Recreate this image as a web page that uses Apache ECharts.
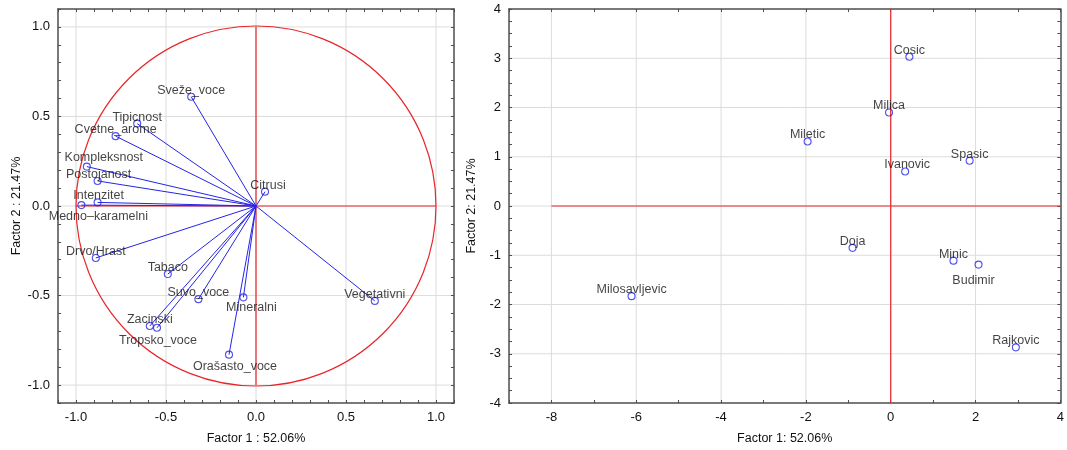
<!DOCTYPE html>
<html><head><meta charset="utf-8">
<script src="https://cdn.jsdelivr.net/npm/echarts@6/dist/echarts.min.js"></script>
<style>html,body{margin:0;padding:0;background:#fff}#c{width:1067px;height:450px}</style>
</head><body><div id="c"></div>
<script>
// ---------- DATA ----------
const variableNames = ['Sveže_voce','Tipicnost','Cvetne_arome','Kompleksnost','Postojanost','Intenzitet','Medno–karamelni','Citrusi','Drvo/Hrast','Tabaco','Suvo_voce','Mineralni','Vegetativni','Zacinski','Tropsko_voce','Orašasto_voce'];
const factor1Loadings = [-0.36,-0.66,-0.78,-0.94,-0.88,-0.88,-0.97,0.05,-0.89,-0.49,-0.32,-0.07,0.66,-0.59,-0.55,-0.15];
const factor2Loadings = [0.61,0.46,0.39,0.22,0.14,0.02,0.005,0.08,-0.29,-0.38,-0.52,-0.51,-0.53,-0.67,-0.68,-0.83];

const cultivarNames = ['Cosic','Milica','Miletic','Ivanovic','Spasic','Doja','Minic','Budimir','Milosavljevic','Rajkovic'];
const factor1Scores = [0.44,-0.04,-1.96,0.34,1.86,-0.90,1.48,2.07,-6.11,2.95];
const factor2Scores = [3.03,1.90,1.31,0.70,0.92,-0.85,-1.11,-1.19,-1.83,-2.87];

const circleRadius = 1;
const loadingRange = [-1.1, 1.1];
const loadingTickStep = 0.1;
const loadingLabelTicks = [-1.0,-0.5,0,0.5,1.0];
const scoreXRange = [-9, 4];
const scoreXTickStep = 1;
const scoreXLabelTicks = [-8,-6,-4,-2,0,2,4];
const scoreYRange = [-4, 4];
const scoreYTickStep = 0.25;
const scoreYLabelTicks = [-4,-3,-2,-1,0,1,2,3,4];
const loadingRefLines = [[[-1,0],[1,0]],[[0,-1],[0,1]]];
const scoreRefLines = [[[-8,0],[4,0]],[[0,-4],[0,4]]];

const axisTitles = {
  loadX: 'Factor 1 : 52.06%', loadY: 'Factor 2 : 21.47%',
  scoreX: 'Factor 1: 52.06%', scoreY: 'Factor 2: 21.47%'
};

// ---------- STYLE ----------
const FONT = 'Liberation Sans, Arial, sans-serif';
const BLUE = '#2424e8';
const RED = '#e8262a';
const FRAME = '#4d4d4d';
const GRID = '#dcdcdc';
const TEXT = '#111111';

// label placement (styling, by name)
const loadLabelPlace = {
  'Kompleksnost': {pos:'top', off:[17,-3]},
  'Postojanost': {pos:'top', off:[1,0]},
  'Intenzitet': {pos:'top', off:[1,0]},
  'Medno–karamelni': {pos:'bottom', off:[17,0]},
  'Citrusi': {pos:'top', off:[3,0]},
  'Mineralni': {pos:'bottom', off:[8,-1]},
  'Tropsko_voce': {pos:'bottom', off:[1,1]},
  'Orašasto_voce': {pos:'bottom', off:[6,0]}
};
const scoreLabelPlace = {
  'Budimir': {pos:'bottom', off:[-5,4]},
  'Ivanovic': {pos:'top', off:[2,0]}
};

function near(list, v){ return list.some(t => Math.abs(t - v) < 1e-6); }

function makeAxes(gridIndex, range, step, labelTicks, fmt, name, nameGap, dim) {
  const base = {
    gridIndex, type:'value', min:range[0], max:range[1], interval:step,
    axisLine:{show:true, onZero:false, lineStyle:{color:FRAME, width:1.5}},
    axisTick:{show:true, inside:true, length:3, lineStyle:{color:FRAME, width:1}},
    splitLine:{show:false}
  };
  const main = Object.assign({}, base, {
    position: dim === 'x' ? 'bottom' : 'left',
    axisLabel:{show:true, color:TEXT, fontSize:13, fontFamily:FONT, margin:8,
      formatter: v => near(labelTicks, v) ? fmt(v) : ''},
    name, nameLocation:'middle', nameGap,
    nameTextStyle:{color:TEXT, fontSize:12.5, fontFamily:FONT}
  });
  const opp = Object.assign({}, base, {
    position: dim === 'x' ? 'top' : 'right',
    axisLabel:{show:false}
  });
  return [main, opp];
}

const xAxes = [
  ...makeAxes(0, loadingRange, loadingTickStep, loadingLabelTicks, v => v.toFixed(1), axisTitles.loadX, 29, 'x'),
  ...makeAxes(1, scoreXRange, scoreXTickStep, scoreXLabelTicks, v => String(Math.round(v)), axisTitles.scoreX, 29, 'x')
];
const yAxes = [
  ...makeAxes(0, loadingRange, loadingTickStep, loadingLabelTicks, v => v.toFixed(1), axisTitles.loadY, 35, 'y'),
  ...makeAxes(1, scoreYRange, scoreYTickStep, scoreYLabelTicks, v => String(Math.round(v)), axisTitles.scoreY, 23, 'y')
];

function gridLineSeries(xi, yi, xTicks, yTicks, xr, yr) {
  const data = [];
  xTicks.forEach(v => { if (v > xr[0] && v < xr[1]) data.push([0, v]); });
  yTicks.forEach(v => { if (v > yr[0] && v < yr[1]) data.push([1, v]); });
  return {
    type:'custom', xAxisIndex:xi, yAxisIndex:yi, silent:true, z:0,
    data, encode:{x:[], y:[]},
    renderItem:(params, api) => {
      const d = api.value(0), v = api.value(1);
      let a, b;
      if (d === 0) { a = api.coord([v, yr[0]]); b = api.coord([v, yr[1]]); }
      else { a = api.coord([xr[0], v]); b = api.coord([xr[1], v]); }
      return {type:'line', shape:{x1:a[0], y1:a[1], x2:b[0], y2:b[1]}, style:{stroke:GRID, lineWidth:1}};
    }
  };
}

function refLineSeries(xi, yi, segs) {
  return segs.map(seg => ({
    type:'line', xAxisIndex:xi, yAxisIndex:yi, data:seg, symbol:'none', silent:true, z:2,
    lineStyle:{color:RED, width:1.2}
  }));
}

function labeledPoints(xi, yi, names, xs, ys, place) {
  return {
    type:'scatter', xAxisIndex:xi, yAxisIndex:yi, z:5,
    symbol:'circle', symbolSize:7,
    itemStyle:{color:'rgba(255,255,255,0)', borderColor:BLUE, borderWidth:1.1},
    data: names.map((n, i) => {
      const p = place[n] || {pos:'top', off:[0,0]};
      return {
        name:n, value:[xs[i], ys[i]],
        label:{show:true, formatter:'{b}', position:p.pos, distance: p.pos === 'top' ? -4 : 1,
          offset:p.off, color:TEXT, fontSize:12.5, fontFamily:FONT}
      };
    })
  };
}

const series = [
  gridLineSeries(0, 0, loadingLabelTicks, loadingLabelTicks, loadingRange, loadingRange),
  gridLineSeries(2, 2, scoreXLabelTicks, scoreYLabelTicks, scoreXRange, scoreYRange),
  {
    type:'custom', xAxisIndex:0, yAxisIndex:0, silent:true, z:2,
    data:[[0, 0, circleRadius]],
    renderItem:(params, api) => {
      const c = api.coord([api.value(0), api.value(1)]);
      const e = api.coord([api.value(0) + api.value(2), api.value(1)]);
      return {type:'circle', shape:{cx:c[0], cy:c[1], r:e[0]-c[0]}, style:{fill:'none', stroke:RED, lineWidth:1.2}};
    }
  },
  ...refLineSeries(0, 0, loadingRefLines),
  ...refLineSeries(2, 2, scoreRefLines),
  {
    type:'custom', xAxisIndex:0, yAxisIndex:0, silent:true, z:3,
    data: factor1Loadings.map((x, i) => [x, factor2Loadings[i]]),
    renderItem:(params, api) => {
      const o = api.coord([0, 0]);
      const p = api.coord([api.value(0), api.value(1)]);
      return {type:'line', shape:{x1:o[0], y1:o[1], x2:p[0], y2:p[1]}, style:{stroke:BLUE, lineWidth:1}};
    }
  },
  labeledPoints(0, 0, variableNames, factor1Loadings, factor2Loadings, loadLabelPlace),
  labeledPoints(2, 2, cultivarNames, factor1Scores, factor2Scores, scoreLabelPlace)
];

const chart = echarts.init(document.getElementById('c'), null, {renderer:'canvas'});
chart.setOption({
  animation:false,
  backgroundColor:'#fff',
  grid:[
    {left:58, top:9, width:396, height:396, containLabel:false},
    {left:509, top:9, width:553, height:396, containLabel:false}
  ],
  xAxis: xAxes,
  yAxis: yAxes,
  series
});
</script>
</body></html>
